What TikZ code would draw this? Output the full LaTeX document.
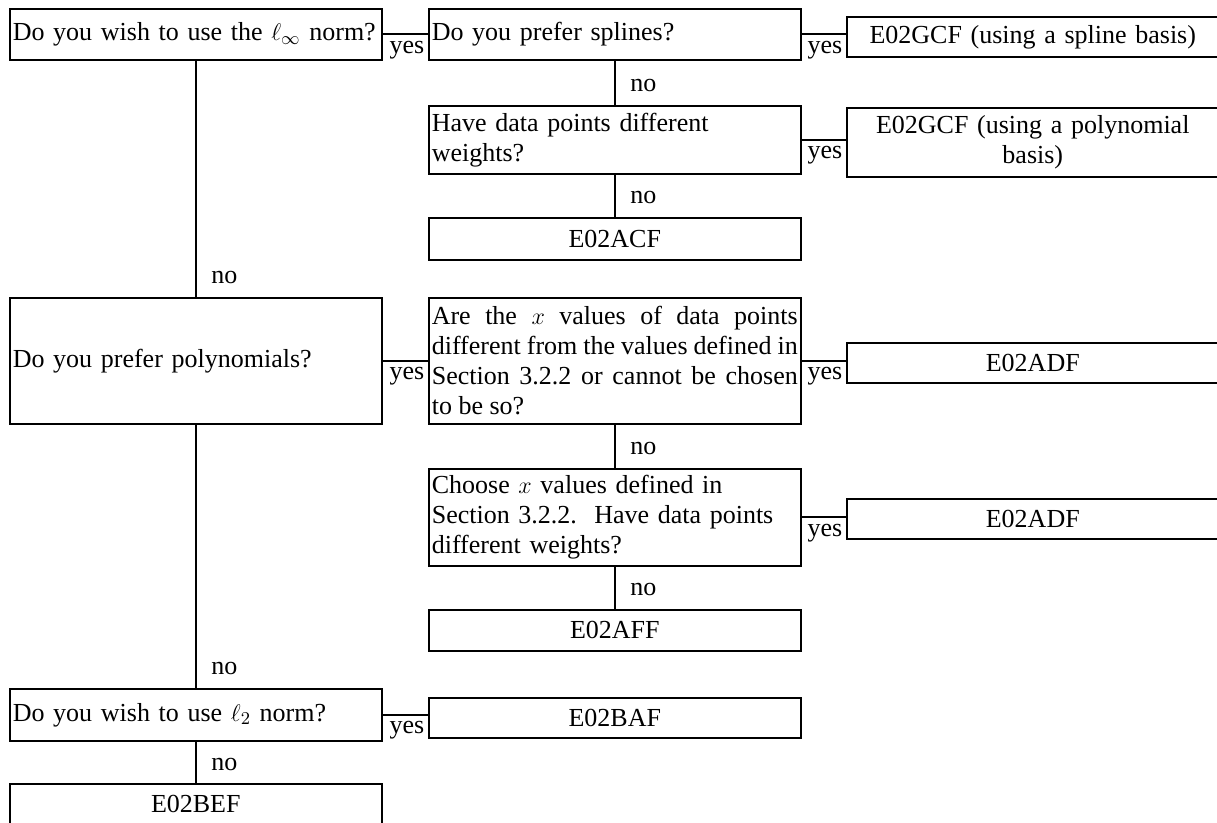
\documentclass[tikz,border=0pt]{standalone}
\usepackage{fontspec}
\setmainfont{Liberation Serif}
\tikzset{
  % Shared values that are assigned to different keys in the styles below.
  globals/box text width/.initial=183pt,
  globals/rule width/.initial=0.8pt,
%
  % For all boxes of the chart.
  box/.style={
    draw,
    line width=\pgfkeysvalueof{/tikz/globals/rule width},
    anchor=north west,
    text width=\pgfkeysvalueof{/tikz/globals/box text width},
    inner xsep=1.5pt,
    inner ysep=2pt,
    font=\fontsize{13}{15}\selectfont},
%
  % For questions.  Text is set flush left.
  question/.style={
    box,
    align=left},
%
  % For the routine to be used.
  routine/.style={
    box,
    align=center,
    minimum height=20pt},
%
  % For connectors between boxes.
  link/.style={
    line width=\pgfkeysvalueof{/tikz/globals/rule width}},
%
  % For answers written at the end of a connector.
  yes label/.style={
    anchor=north east,
    inner xsep=1.5pt,
    inner ysep=3pt,
    font=\fontsize{13}{15}\selectfont},
  no label/.style={
    anchor=base west,
    xshift=4pt,
    yshift=6.5pt,
    font=\fontsize{13}{15}\selectfont}
}

\begin{document}
\begin{tikzpicture}[x=0.5pt,y=-0.5pt]
  \useasboundingbox (0,0) rectangle (1217,823);

  % First column.
  \node[question, minimum height=25.5pt] (linf) at (9,8)
    {Do you wish to use the $\ell_\infty$ norm?};
  \node[question, minimum height=63pt] (poly) at (9,297)
    {Do you prefer polynomials?};
  \node[question, minimum height=26pt] (ltwo) at (9,688)
    {Do you wish to use $\ell_2$ norm?};
  \node[routine] (bef) at (9,783) {E02BEF};

  % Second column.
  \node[question, minimum height=25.5pt] (splines) at (428,8)
    {Do you prefer splines?};
  \node[question, minimum height=34pt] (weights) at (428,105)
    {Have data points different\\weights?};
  \node[routine, minimum height=21pt] (acf) at (428,217) {E02ACF};
  % Lines of this one fill the whole box.
  \node[question, align=justify, minimum height=63pt] (xvalues) at (428,297)
    {Are the $x$ values of data points\linebreak
     different from the values defined in\linebreak
     Section 3.2.2 or cannot be chosen\linebreak
     to be so?};
  \node[question, minimum height=48.5pt] (choose) at (428,468)
    {Choose $x$ values defined in\\
     Section 3.2.2.\ \ Have data points\\
     different weights?};
  \node[routine, minimum height=20.5pt] (aff) at (428,609) {E02AFF};
  \node[routine] (baf) at (428,697) {E02BAF};

  % Third column.
  \node[routine] (gcfspline) at (846,16) {E02GCF (using a spline basis)};
  \node[routine, minimum height=34.5pt] (gcfpoly) at (846,107)
    {E02GCF (using a polynomial\\basis)};
  \node[routine] (adf) at (846,342) {E02ADF};
  \node[routine] (adfw) at (846,498) {E02ADF};

  % Answers 'yes' go to the right.
  \foreach \from/\to in {linf/splines, splines/gcfspline, weights/gcfpoly,
                         poly/xvalues, xvalues/adf, choose/adfw, ltwo/baf}
    \draw[link] (\from.east) -- (\from.east -| \to.west)
      node[yes label] {yes};

  % Answers 'no' go down.
  \foreach \from/\to in {linf/poly, poly/ltwo, ltwo/bef, splines/weights,
                         weights/acf, xvalues/choose, choose/aff}
    \draw[link] (\from.south) -- (\to.north)
      node[no label] {no};
\end{tikzpicture}
\end{document}
